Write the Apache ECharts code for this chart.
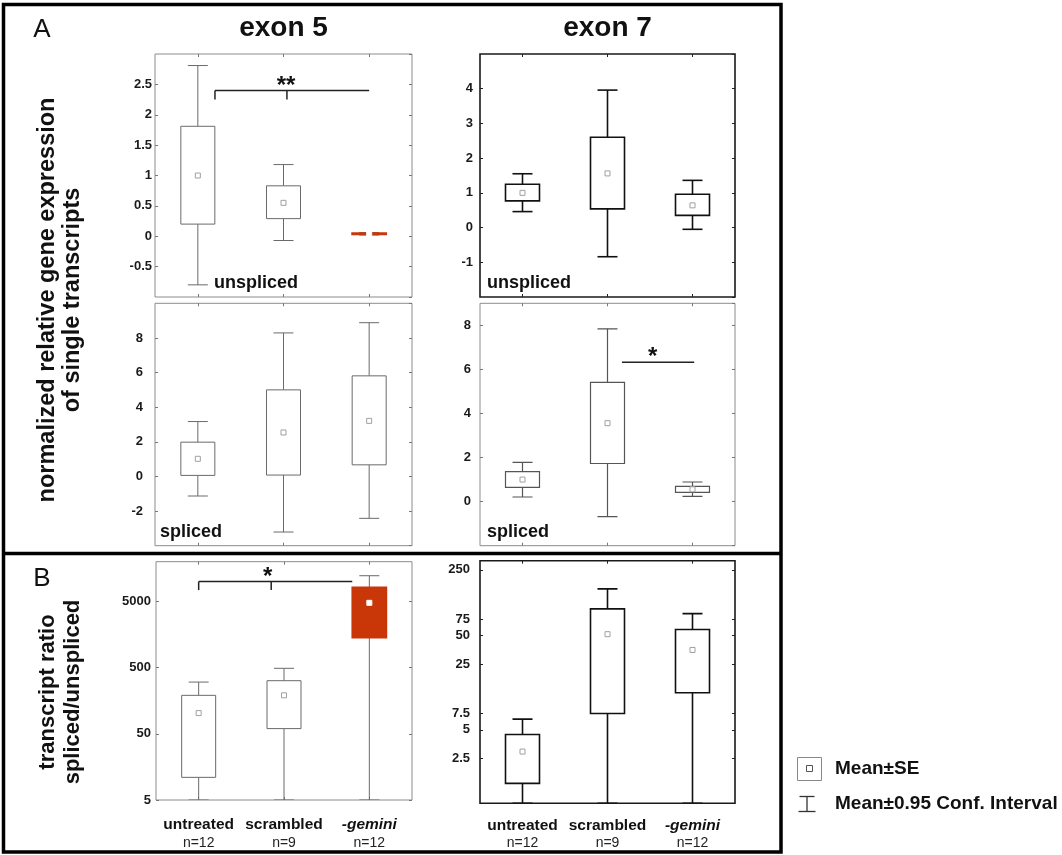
<!DOCTYPE html>
<html><head><meta charset="utf-8">
<script src="https://cdn.jsdelivr.net/npm/echarts@6.0.0/dist/echarts.min.js"></script>
<style>html,body{margin:0;padding:0;background:#fff}#c{width:1062px;height:855px}</style>
</head><body><div id="c"></div>
<script>
// ---------- data ----------
const categories = ['untreated', 'scrambled', '-gemini'];
const nLabels = ['n=12', 'n=9', 'n=12'];
// rows per category: [CI low, SE low, mean, SE high, CI high]
const exon5Unspliced = [[-0.80, 0.20, 1.00, 1.81, 2.81], [-0.07, 0.29, 0.55, 0.83, 1.18], [0.02, 0.03, 0.04, 0.05, 0.06]];
const exon7Unspliced = [[0.46, 0.77, 1.00, 1.25, 1.55], [-0.84, 0.54, 1.56, 2.60, 3.96], [-0.05, 0.35, 0.64, 0.96, 1.36]];
const exon5Spliced = [[-1.13, 0.06, 1.02, 1.98, 3.17], [-3.21, 0.08, 2.54, 5.00, 8.29], [-2.42, 0.67, 3.21, 5.81, 8.88]];
const exon7Spliced = [[0.21, 0.65, 1.00, 1.36, 1.78], [-0.68, 1.73, 3.56, 5.41, 7.84], [0.24, 0.42, 0.56, 0.69, 0.89]];
const exon5Ratio = [[5, 11, 103, 191, 303], [5, 60, 191, 318, 489], [5, 1420, 4780, 8185, 12275]];
const exon7Ratio = [[0.83, 1.35, 2.94, 4.46, 6.5], [0.83, 7.45, 51.9, 96.4, 157], [0.83, 12.4, 35.3, 58.1, 85.9]];
const exon5RatioTicks = [5, 50, 500, 5000];
const exon7RatioTicks = [2.5, 5, 7.5, 25, 50, 75, 250];
// significance brackets (data coordinates; x in category units)
const sigExon5Unspliced = [{x0: 0.2, x1: 2, xm: 1.04, y: 2.4, yEnd: 2.25, text: '**', tx: 1.03, ty: 2.46}];
const sigExon7Spliced = [{x0: 1.17, x1: 2.02, y: 6.33, text: '*', tx: 1.53, ty: 6.55}];
const sigRatio5 = [{x0: 0, x1: 1.8, xm: 0.85, y: 10000, yEnd: 7460, text: '*', tx: 0.81, ty: 11720}];

// ---------- styles ----------
const FONT = '"Liberation Sans", Arial, Helvetica, sans-serif';
const RED = '#c93608';
const thin = {stroke: '#6a6a6a', lw: 1, frame: '#8c8c8c', fw: 1, mean: '#a0a0a0', tick: '#777'};
const mid = {stroke: '#555', lw: 1.2, frame: '#8c8c8c', fw: 1, mean: '#a0a0a0', tick: '#777'};
const bold = {stroke: '#111', lw: 1.6, frame: '#1a1a1a', fw: 1.6, mean: '#a0a0a0', tick: '#222'};

const panels = [
  {grid: {left: 155, top: 54, width: 257, height: 243}, data: exon5Unspliced, y: {type: 'value', min: -1, max: 3, interval: 0.5}, margin: 3, st: thin, red: 2, sig: sigExon5Unspliced},
  {grid: {left: 480, top: 54, width: 255, height: 243}, data: exon7Unspliced, y: {type: 'value', min: -2, max: 5, interval: 1}, margin: 7, st: bold, red: -1},
  {grid: {left: 155, top: 303.3, width: 257, height: 242.4}, data: exon5Spliced, y: {type: 'value', min: -4, max: 10, interval: 2}, margin: 12, st: thin, red: -1},
  {grid: {left: 480, top: 303.3, width: 255, height: 242.4}, data: exon7Spliced, y: {type: 'value', min: -2, max: 9, interval: 2}, margin: 9, st: mid, red: -1, sig: sigExon7Spliced},
  {grid: {left: 156, top: 561.7, width: 256, height: 238.3}, data: exon5Ratio, y: {type: 'log', min: 5, max: 20000, ticks: exon5RatioTicks}, margin: 5, st: thin, red: 2, sig: sigRatio5, bottom: true, xMargin: 16},
  {grid: {left: 480, top: 560.7, width: 255, height: 242.6}, data: exon7Ratio, y: {type: 'log', min: 0.83, max: 313, ticks: exon7RatioTicks}, margin: 10, st: bold, red: -1, bottom: true, xMargin: 13}
];

const grids = [], xAxes = [], yAxes = [], series = [];

// pixel x of a fractional category position, using the axis' own band
function catX(api, x, y) {
  const base = Math.floor(x);
  return api.coord([base, y])[0] + (x - base) * api.size([1, 0])[0];
}

panels.forEach((P, i) => {
  const st = P.st;
  grids.push(Object.assign({show: true, borderColor: st.frame, borderWidth: st.fw, backgroundColor: 'transparent'}, P.grid));
  const xBase = {
    type: 'category', gridIndex: i, data: categories, boundaryGap: true,
    axisLine: {show: false, onZero: false}, splitLine: {show: false},
    axisTick: {show: true, inside: true, alignWithLabel: true, length: 3, lineStyle: {color: st.tick, width: 1}}
  };
  xAxes.push(Object.assign({}, xBase, {
    position: 'bottom',
    axisLabel: P.bottom ? {
      show: true, interval: 0, margin: P.xMargin, color: '#111',
      formatter: (v, idx) => (idx === 2 ? '{it|' + v + '}' : '{b|' + v + '}') + '\n{n|' + nLabels[idx] + '}',
      rich: {
        b: {fontFamily: FONT, fontWeight: 'bold', fontSize: 15.5, lineHeight: 18, color: '#111'},
        it: {fontFamily: FONT, fontWeight: 'bold', fontStyle: 'italic', fontSize: 15.5, lineHeight: 18, color: '#111'},
        n: {fontFamily: FONT, fontSize: 14, lineHeight: 18, color: '#222'}
      }
    } : {show: false}
  }));
  xAxes.push(Object.assign({}, xBase, {position: 'top', axisLabel: {show: false}}));

  const yBase = {
    gridIndex: i, type: P.y.type, min: P.y.min, max: P.y.max,
    axisLine: {show: false, onZero: false}, splitLine: {show: false}
  };
  if (P.y.type === 'value') yBase.interval = P.y.interval;
  if (P.y.type === 'log') yBase.logBase = 10;
  const tickStyle = {show: true, inside: true, length: 3, lineStyle: {color: st.tick, width: 1}};
  if (P.y.ticks) tickStyle.customValues = P.y.ticks;
  const labelStyle = {
    show: true, margin: P.margin, color: '#1a1a1a', fontFamily: FONT, fontWeight: 'bold', fontSize: 13,
    showMinLabel: P.y.type === 'log', showMaxLabel: P.y.type === 'log'
  };
  if (P.y.ticks) { labelStyle.customValues = P.y.ticks; labelStyle.formatter = v => String(v); }
  yAxes.push(Object.assign({}, yBase, {position: 'left', axisTick: tickStyle, axisLabel: labelStyle}));
  yAxes.push(Object.assign({}, yBase, {position: 'right', axisTick: tickStyle, axisLabel: {show: false}}));

  // box + whiskers + mean marker
  series.push({
    type: 'custom', xAxisIndex: 2 * i, yAxisIndex: 2 * i, clip: true, z: 3,
    data: P.data.map((r, k) => [k].concat(r)),
    encode: {x: 0, y: [1, 2, 3, 4, 5]},
    renderItem: (params, api) => {
      const k = api.value(0);
      const vals = [1, 2, 3, 4, 5].map(j => api.value(j));
      const ys = vals.map(v => api.coord([k, v])[1]);
      const cx = api.coord([k, vals[2]])[0];
      const [yLo, yQ1, yM, yQ3, yHi] = ys;
      const isRed = k === P.red;
      const bw = 17, cw = 10;
      const ls = {stroke: st.stroke, lineWidth: st.lw, fill: null};
      return {
        type: 'group',
        children: [
          {type: 'line', shape: {x1: cx, y1: yQ3, x2: cx, y2: yHi}, style: ls},
          {type: 'line', shape: {x1: cx - cw, y1: yHi, x2: cx + cw, y2: yHi}, style: ls},
          {type: 'line', shape: {x1: cx, y1: yQ1, x2: cx, y2: yLo}, style: ls},
          {type: 'line', shape: {x1: cx - cw, y1: yLo, x2: cx + cw, y2: yLo}, style: ls},
          {type: 'rect', shape: {x: cx - bw, y: yQ3, width: 2 * bw, height: yQ1 - yQ3},
            style: {fill: isRed ? RED : '#fff', stroke: isRed ? RED : st.stroke, lineWidth: isRed ? 1.8 : st.lw}},
          {type: 'rect', shape: {x: cx - 2.5, y: yM - 2.5, width: 5, height: 5},
            style: {fill: '#fff', stroke: isRed ? '#fff' : st.mean, lineWidth: 1}}
        ]
      };
    }
  });

  if (P.sig) {
    series.push({
      type: 'custom', xAxisIndex: 2 * i, yAxisIndex: 2 * i, clip: false, z: 4,
      data: P.sig.map(b => [Math.round(b.x0), b.y]),
      encode: {x: 0, y: 1},
      renderItem: (params, api) => {
        const b = P.sig[params.dataIndex];
        const yL = api.coord([0, b.y])[1];
        const x0 = catX(api, b.x0, b.y), x1 = catX(api, b.x1, b.y);
        const ls = {stroke: '#222', lineWidth: 1.5, fill: null};
        const ch = [{type: 'line', shape: {x1: x0, y1: yL, x2: x1, y2: yL}, style: ls}];
        if (b.yEnd != null) {
          const yE = api.coord([0, b.yEnd])[1];
          const xm = catX(api, b.xm, b.y);
          ch.push({type: 'line', shape: {x1: x0, y1: yL, x2: x0, y2: yE}, style: ls});
          ch.push({type: 'line', shape: {x1: xm, y1: yL, x2: xm, y2: yE}, style: ls});
        }
        const tx = catX(api, b.tx, b.ty), ty = api.coord([0, b.ty])[1];
        ch.push({type: 'text', x: tx, y: ty, style: {text: b.text, font: 'bold 24px ' + FONT, fill: '#111', align: 'center', verticalAlign: 'middle'}});
        return {type: 'group', children: ch};
      }
    });
  }
});

const txt = (x, y, text, font, extra) => ({type: 'text', x: x, y: y, style: Object.assign({text: text, font: font, fill: '#111', align: 'left', verticalAlign: 'middle'}, extra || {})});

const graphic = [
  {type: 'rect', shape: {x: 3.5, y: 4.5, width: 777.5, height: 847.5}, style: {fill: null, stroke: '#000', lineWidth: 3.5}, z: 10},
  {type: 'line', shape: {x1: 3.5, y1: 553.5, x2: 781, y2: 553.5}, style: {stroke: '#000', lineWidth: 3.5}, z: 10},
  txt(42, 30, 'A', '26px ' + FONT, {align: 'center'}),
  txt(42, 579, 'B', '26px ' + FONT, {align: 'center'}),
  txt(283.5, 28, 'exon 5', 'bold 28px ' + FONT, {align: 'center'}),
  txt(607.5, 28, 'exon 7', 'bold 28px ' + FONT, {align: 'center'}),
  Object.assign(txt(60, 300, 'normalized relative gene expression\nof single transcripts', 'bold 23.5px ' + FONT, {align: 'center', lineHeight: 25}), {rotation: Math.PI / 2}),
  Object.assign(txt(60, 692, 'transcript ratio\nspliced/unspliced', 'bold 22px ' + FONT, {align: 'center', lineHeight: 25}), {rotation: Math.PI / 2}),
  txt(214, 283, 'unspliced', 'bold 18px ' + FONT),
  txt(487, 283, 'unspliced', 'bold 18px ' + FONT),
  txt(160, 532, 'spliced', 'bold 18px ' + FONT),
  txt(487, 532, 'spliced', 'bold 18px ' + FONT),
  // legend
  {type: 'rect', shape: {x: 797.5, y: 757.5, width: 24, height: 23}, style: {fill: '#fff', stroke: '#888', lineWidth: 1}},
  {type: 'rect', shape: {x: 806.5, y: 765.5, width: 6, height: 6}, style: {fill: '#fff', stroke: '#555', lineWidth: 1}},
  txt(835, 769, 'Mean±SE', 'bold 19px ' + FONT),
  {type: 'line', shape: {x1: 799.5, y1: 796.5, x2: 814.5, y2: 796.5}, style: {stroke: '#333', lineWidth: 1.3}},
  {type: 'line', shape: {x1: 807, y1: 796.5, x2: 807, y2: 811.5}, style: {stroke: '#333', lineWidth: 1.3}},
  {type: 'line', shape: {x1: 798.5, y1: 811.5, x2: 815.5, y2: 811.5}, style: {stroke: '#333', lineWidth: 1.3}},
  txt(835, 804, 'Mean±0.95 Conf. Interval', 'bold 19px ' + FONT)
];

const chart = echarts.init(document.getElementById('c'), null, {renderer: 'canvas'});
chart.setOption({
  animation: false,
  backgroundColor: '#fff',
  grid: grids, xAxis: xAxes, yAxis: yAxes, series: series, graphic: graphic
});
</script></body></html>
